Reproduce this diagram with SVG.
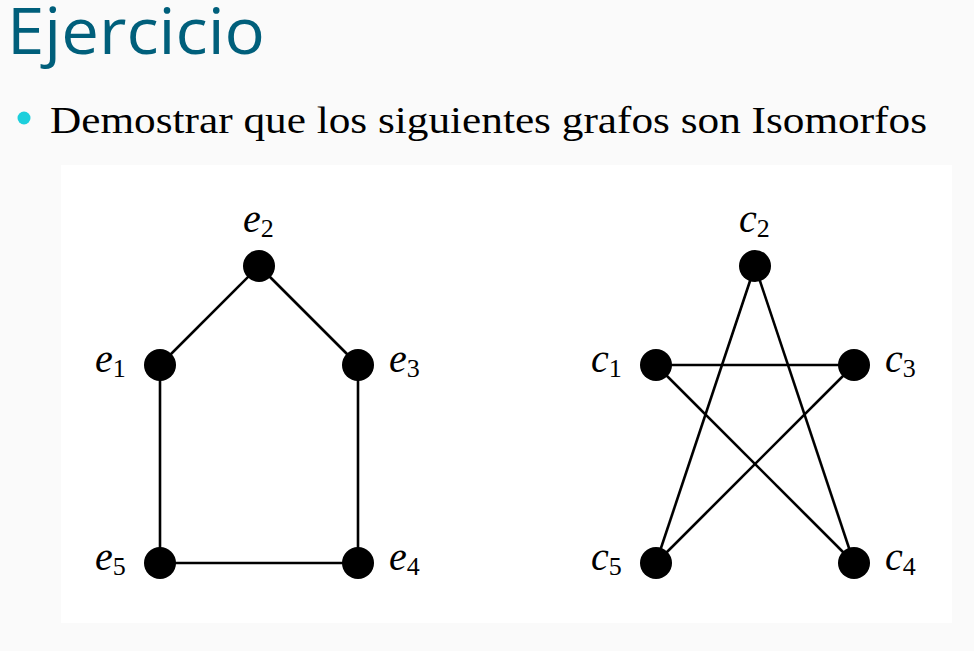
<svg xmlns="http://www.w3.org/2000/svg" width="974" height="651" viewBox="0 0 974 651">
<style>
.edge{stroke:#000;stroke-width:2.6;fill:none}
.node{fill:#000}
.lbl{font-family:"Liberation Serif","DejaVu Serif",serif;font-style:italic;font-size:40px;fill:#000}
.sub{font-family:"Liberation Serif","DejaVu Serif",serif;font-style:normal;font-size:26px}
</style>
<rect width="974" height="651" fill="#fafafa"/>
<rect x="61" y="165" width="891" height="458" fill="#ffffff"/>
<text x="7" y="54" font-family="Open Sans, Lato, sans-serif" font-size="64" fill="#005f7b" textLength="258" lengthAdjust="spacingAndGlyphs">Ejercicio</text>
<circle cx="24" cy="118" r="6.5" fill="#1ccfdc"/>
<text x="50" y="133" font-family="Liberation Serif, serif" font-size="38" fill="#000" textLength="877" lengthAdjust="spacingAndGlyphs">Demostrar que los siguientes grafos son Isomorfos</text>
<g id="connectors">
<line class="edge" x1="160" y1="365" x2="259" y2="266"/>
<line class="edge" x1="259" y1="266" x2="358" y2="365"/>
<line class="edge" x1="358" y1="365" x2="358" y2="563"/>
<line class="edge" x1="358" y1="563" x2="160" y2="563"/>
<line class="edge" x1="160" y1="563" x2="160" y2="365"/>
<line class="edge" x1="755" y1="266" x2="656" y2="563"/>
<line class="edge" x1="755" y1="266" x2="854" y2="563"/>
<line class="edge" x1="656" y1="365" x2="854" y2="365"/>
<line class="edge" x1="656" y1="365" x2="854" y2="563"/>
<line class="edge" x1="854" y1="365" x2="656" y2="563"/>
</g>
<g id="e1"><circle class="node" cx="160" cy="365" r="16"/><text class="lbl" x="95" y="372">e<tspan class="sub" dy="5">1</tspan></text></g>
<g id="e2"><circle class="node" cx="259" cy="266" r="16"/><text class="lbl" x="243" y="232">e<tspan class="sub" dy="5">2</tspan></text></g>
<g id="e3"><circle class="node" cx="358" cy="365" r="16"/><text class="lbl" x="389" y="372">e<tspan class="sub" dy="5">3</tspan></text></g>
<g id="e4"><circle class="node" cx="358" cy="563" r="16"/><text class="lbl" x="389" y="570">e<tspan class="sub" dy="5">4</tspan></text></g>
<g id="e5"><circle class="node" cx="160" cy="563" r="16"/><text class="lbl" x="95" y="570">e<tspan class="sub" dy="5">5</tspan></text></g>
<g id="c1"><circle class="node" cx="656" cy="365" r="16"/><text class="lbl" x="591" y="372">c<tspan class="sub" dy="5">1</tspan></text></g>
<g id="c2"><circle class="node" cx="755" cy="266" r="16"/><text class="lbl" x="739" y="232">c<tspan class="sub" dy="5">2</tspan></text></g>
<g id="c3"><circle class="node" cx="854" cy="365" r="16"/><text class="lbl" x="885" y="372">c<tspan class="sub" dy="5">3</tspan></text></g>
<g id="c4"><circle class="node" cx="854" cy="563" r="16"/><text class="lbl" x="885" y="570">c<tspan class="sub" dy="5">4</tspan></text></g>
<g id="c5"><circle class="node" cx="656" cy="563" r="16"/><text class="lbl" x="591" y="570">c<tspan class="sub" dy="5">5</tspan></text></g>
</svg>
